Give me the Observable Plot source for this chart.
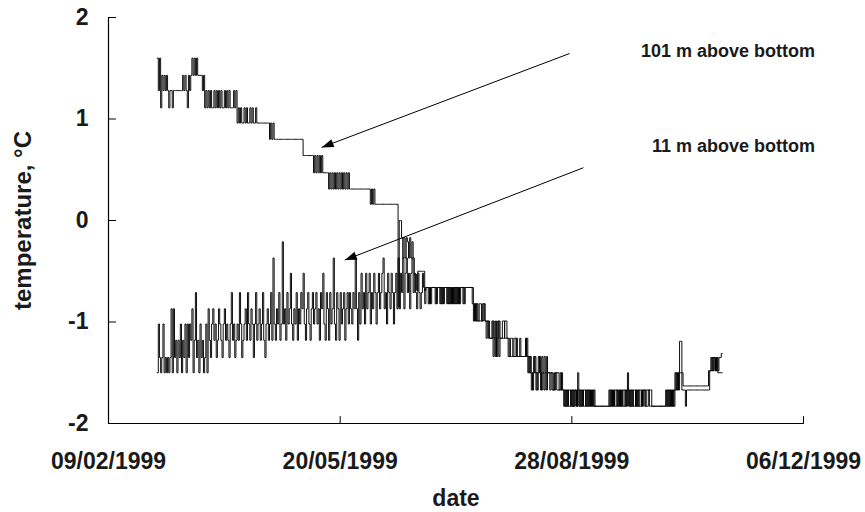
<!DOCTYPE html>
<html>
<head>
<meta charset="utf-8">
<script src="https://cdn.jsdelivr.net/npm/d3@7"></script>
<script src="https://cdn.jsdelivr.net/npm/@observablehq/plot@0.6"></script>
<style>
  html, body { margin: 0; padding: 0; background: #fff; }
  svg { display: block; }
</style>
</head>
<body>
<div id="chart"></div>
<script>
// ---- data: readings every 12 hours, first reading 1999-03-02 00:00 UTC ----
const startDate = "1999-03-02";
const stepHours = 12;
const seriesNames = ["101 m above bottom", "11 m above bottom"];
const temp101 = [
  1.60, 1.28, 1.60, 1.11, 1.43, 1.28, 1.43, 1.28, 1.43, 1.28,
  1.11, 1.28, 1.28, 1.11, 1.28, 1.28, 1.28, 1.28, 1.28, 1.28,
  1.28, 1.28, 1.43, 1.28, 1.43, 1.28, 1.11, 1.43, 1.28, 1.43,
  1.60, 1.43, 1.60, 1.43, 1.60, 1.43, 1.43, 1.43, 1.43, 1.28,
  1.43, 1.11, 1.28, 1.11, 1.28, 1.11, 1.28, 1.11, 1.11, 1.28,
  1.11, 1.28, 1.11, 1.28, 1.11, 1.28, 1.11, 1.11, 1.28, 1.11,
  1.28, 1.11, 1.28, 1.11, 1.11, 1.11, 1.28, 1.11, 1.28, 0.96,
  1.11, 0.96, 1.11, 0.96, 0.96, 1.11, 0.96, 1.11, 0.96, 0.96,
  1.11, 0.96, 1.11, 0.96, 0.96, 1.11, 0.96, 0.96, 0.96, 0.96,
  0.96, 0.96, 0.96, 0.96, 0.96, 0.96, 0.96, 0.80, 0.96, 0.80,
  0.96, 0.80, 0.80, 0.80, 0.80, 0.80, 0.80, 0.80, 0.80, 0.80,
  0.80, 0.80, 0.80, 0.80, 0.80, 0.80, 0.80, 0.80, 0.80, 0.80,
  0.80, 0.80, 0.80, 0.80, 0.80, 0.80, 0.64, 0.64, 0.64, 0.64,
  0.64, 0.64, 0.64, 0.64, 0.64, 0.47, 0.64, 0.47, 0.64, 0.47,
  0.64, 0.47, 0.64, 0.47, 0.47, 0.47, 0.47, 0.47, 0.31, 0.47,
  0.31, 0.47, 0.31, 0.47, 0.31, 0.47, 0.31, 0.47, 0.31, 0.47,
  0.31, 0.47, 0.31, 0.47, 0.31, 0.47, 0.31, 0.31, 0.31, 0.31,
  0.31, 0.31, 0.31, 0.31, 0.31, 0.31, 0.31, 0.31, 0.31, 0.31,
  0.31, 0.31, 0.31, 0.31, 0.16, 0.31, 0.16, 0.31, 0.16, 0.16,
  0.16, 0.16, 0.16, 0.16, 0.16, 0.16, 0.16, 0.16, 0.16, 0.16,
  0.16, 0.16, 0.16, 0.16, 0.16, 0.16, 0.16, 0.16, -0.85, 0.00,
  0.00, -0.17, -0.37, -0.17, -0.37, -0.17, -0.21, -0.37, -0.17, -0.37,
  -0.21, -0.37, -0.53, -0.53, -0.69, -0.50, -0.50, -0.50, -0.50, -0.50,
  -0.50, -0.69, -0.66, -0.66, -0.82, -0.66, -0.82, -0.66, -0.66, -0.66,
  -0.82, -0.66, -0.66, -0.66, -0.82, -0.66, -0.82, -0.66, -0.66, -0.66,
  -0.66, -0.82, -0.66, -0.82, -0.66, -0.82, -0.66, -0.82, -0.66, -0.82,
  -0.66, -0.82, -0.66, -0.66, -0.82, -0.66, -0.66, -0.66, -0.66, -0.66,
  -0.66, -0.66, -0.82, -0.99, -0.82, -0.99, -0.82, -0.99, -0.82, -0.82,
  -0.99, -0.82, -0.82, -0.99, -0.99, -0.99, -1.16, -1.16, -1.16, -0.99,
  -1.34, -1.16, -0.99, -1.34, -1.16, -0.99, -1.16, -1.16, -0.99, -0.99,
  -1.16, -1.16, -1.16, -1.34, -1.34, -1.16, -1.16, -1.34, -1.34, -1.34,
  -1.16, -1.34, -1.34, -1.34, -1.34, -1.34, -1.34, -1.34, -1.16, -1.34,
  -1.50, -1.34, -1.50, -1.67, -1.50, -1.34, -1.50, -1.67, -1.50, -1.34,
  -1.50, -1.67, -1.34, -1.50, -1.67, -1.50, -1.34, -1.50, -1.50, -1.67,
  -1.50, -1.50, -1.67, -1.67, -1.50, -1.50, -1.50, -1.67, -1.67, -1.50,
  -1.67, -1.83, -1.67, -1.83, -1.67, -1.83, -1.83, -1.67, -1.83, -1.67,
  -1.83, -1.67, -1.83, -1.50, -1.83, -1.67, -1.83, -1.67, -1.83, -1.83,
  -1.67, -1.83, -1.67, -1.83, -1.67, -1.83, -1.67, -1.83, -1.83, -1.83,
  -1.83, -1.83, -1.83, -1.83, -1.83, -1.83, -1.83, -1.83, -1.83, -1.83,
  -1.67, -1.83, -1.67, -1.83, -1.67, -1.83, -1.83, -1.67, -1.83, -1.67,
  -1.83, -1.67, -1.83, -1.83, -1.67, -1.83, -1.50, -1.83, -1.67, -1.83,
  -1.67, -1.83, -1.83, -1.67, -1.83, -1.67, -1.83, -1.83, -1.67, -1.83,
  -1.67, -1.67, -1.83, -1.83, -1.67, -1.83, -1.83, -1.83, -1.83, -1.83,
  -1.83, -1.83, -1.83, -1.83, -1.83, -1.83, -1.83, -1.83, -1.83, -1.67,
  -1.83, -1.67, -1.83, -1.67, -1.83, -1.67, -1.83, -1.67, -1.50, -1.67,
  -1.50, -1.19, -1.19, -1.50, -1.63, -1.63, -1.63, -1.63, -1.63, -1.63,
  -1.63, -1.63, -1.63, -1.63, -1.63, -1.63, -1.63, -1.63, -1.63, -1.63,
  -1.63, -1.63, -1.63, -1.63, -1.63, -1.63, -1.48, -1.48, -1.35, -1.48,
  -1.35, -1.35, -1.48, -1.35, -1.48, -1.35, -1.35, -1.31, -1.31
];
const temp11 = [
  -1.50, -1.02, -1.35, -1.50, -1.35, -1.02, -1.50, -1.35, -1.50, -1.35,
  -1.50, -1.35, -0.87, -1.50, -0.87, -1.35, -1.18, -1.50, -1.18, -1.35,
  -1.02, -1.50, -1.18, -1.35, -1.02, -1.50, -1.02, -1.35, -1.02, -1.18,
  -0.87, -1.50, -1.18, -0.71, -1.35, -1.18, -1.50, -1.02, -1.35, -1.18,
  -1.50, -1.35, -1.02, -1.50, -0.87, -1.18, -1.35, -1.02, -0.87, -1.18,
  -1.02, -1.35, -1.18, -0.87, -1.02, -1.18, -1.35, -1.02, -0.87, -1.18,
  -1.02, -1.18, -1.35, -1.02, -0.71, -1.18, -1.02, -1.35, -1.18, -1.02,
  -1.18, -0.71, -1.02, -1.35, -1.18, -1.02, -0.87, -1.18, -0.71, -1.02,
  -1.18, -0.87, -1.02, -1.35, -1.02, -0.71, -1.18, -1.02, -0.87, -1.18,
  -1.02, -0.71, -1.18, -1.35, -1.02, -0.87, -1.18, -1.02, -0.71, -1.18,
  -0.37, -1.02, -1.18, -0.87, -1.02, -0.71, -1.18, -1.02, -0.21, -1.02,
  -0.87, -1.18, -0.71, -1.02, -0.87, -0.52, -1.02, -1.18, -0.87, -1.02,
  -0.71, -1.18, -0.87, -1.02, -0.71, -0.87, -0.52, -1.02, -1.18, -0.87,
  -0.71, -1.02, -1.18, -0.87, -0.71, -1.02, -0.87, -0.71, -1.02, -0.87,
  -1.18, -0.71, -0.87, -0.52, -1.02, -1.18, -0.71, -0.87, -1.18, -0.71,
  -1.02, -0.87, -0.37, -1.02, -1.18, -0.71, -0.87, -1.18, -0.71, -1.02,
  -0.87, -0.71, -1.18, -0.87, -0.71, -1.02, -0.71, -0.87, -1.02, -0.71,
  -0.87, -0.37, -0.87, -1.18, -0.71, -1.02, -0.52, -0.87, -0.71, -1.02,
  -0.52, -0.87, -0.71, -0.52, -1.02, -0.71, -0.87, -0.52, -0.71, -1.02,
  -0.71, -0.52, -0.87, -0.71, -0.52, -0.37, -0.87, -0.71, -1.02, -0.52,
  -0.71, -0.87, -0.52, -0.71, -1.02, -0.71, -0.52, -0.87, -0.37, -0.87,
  -0.52, -0.71, -0.37, -0.87, -0.52, -0.37, -0.71, -0.52, -0.87, -0.52,
  -0.37, -0.71, -0.52, -0.71, -0.87, -0.52, -0.71, -0.87, -0.71, -0.52,
  -0.66, -0.82, -0.66, -0.66, -0.66, -0.82, -0.66, -0.66, -0.66, -0.66,
  -0.66, -0.82, -0.66, -0.66, -0.66, -0.82, -0.66, -0.82, -0.66, -0.66,
  -0.82, -0.66, -0.82, -0.66, -0.82, -0.66, -0.82, -0.66, -0.82, -0.66,
  -0.82, -0.66, -0.66, -0.66, -0.66, -0.82, -0.66, -0.66, -0.66, -0.66,
  -0.66, -0.66, -0.66, -0.82, -0.99, -0.82, -0.99, -0.99, -0.99, -0.99,
  -0.99, -0.99, -0.82, -0.99, -1.16, -0.99, -0.99, -1.16, -1.16, -1.16,
  -0.99, -1.16, -1.34, -1.16, -0.99, -1.34, -1.16, -1.16, -1.16, -1.16,
  -0.99, -0.99, -1.16, -1.16, -1.34, -1.34, -1.34, -1.34, -1.16, -1.16,
  -1.34, -1.34, -1.34, -1.16, -1.34, -1.34, -1.34, -1.34, -1.34, -1.16,
  -1.34, -1.50, -1.34, -1.50, -1.67, -1.50, -1.34, -1.50, -1.67, -1.50,
  -1.34, -1.50, -1.67, -1.50, -1.34, -1.50, -1.67, -1.50, -1.50, -1.50,
  -1.50, -1.67, -1.67, -1.50, -1.50, -1.67, -1.67, -1.67, -1.50, -1.67,
  -1.67, -1.67, -1.83, -1.67, -1.83, -1.67, -1.67, -1.83, -1.67, -1.83,
  -1.67, -1.67, -1.83, -1.67, -1.67, -1.83, -1.67, -1.83, -1.67, -1.67,
  -1.83, -1.67, -1.83, -1.67, -1.83, -1.67, -1.83, -1.67, -1.83, -1.83,
  -1.83, -1.83, -1.83, -1.83, -1.83, -1.83, -1.83, -1.83, -1.83, -1.83,
  -1.83, -1.67, -1.83, -1.67, -1.83, -1.67, -1.67, -1.83, -1.67, -1.83,
  -1.67, -1.83, -1.67, -1.67, -1.83, -1.67, -1.67, -1.67, -1.83, -1.67,
  -1.83, -1.67, -1.67, -1.83, -1.67, -1.83, -1.67, -1.67, -1.83, -1.67,
  -1.67, -1.83, -1.67, -1.67, -1.67, -1.67, -1.67, -1.83, -1.83, -1.83,
  -1.83, -1.83, -1.83, -1.83, -1.83, -1.83, -1.83, -1.83, -1.83, -1.83,
  -1.67, -1.83, -1.67, -1.83, -1.67, -1.83, -1.67, -1.50, -1.67, -1.50,
  -1.67, -1.50, -1.50, -1.67, -1.67, -1.67, -1.83, -1.67, -1.67, -1.67,
  -1.67, -1.67, -1.67, -1.67, -1.67, -1.67, -1.67, -1.67, -1.67, -1.67,
  -1.67, -1.67, -1.67, -1.67, -1.67, -1.67, -1.67, -1.48, -1.48, -1.35,
  -1.48, -1.35, -1.48, -1.35, -1.50, -1.50, -1.50, -1.50, -1.50
];
const xTickDates = ["1999-02-09", "1999-05-20", "1999-08-28", "1999-12-06"];
const yTickValues = [-2, -1, 0, 1, 2];
const xLabel = "date";
const yLabel = "temperature, \u00B0C";
// annotation arrows: tails and heads as [date, temperature]
const arrowTails = [["1999-08-27", 1.645], ["1999-09-02", 0.52]];
const arrowHeads = [["1999-05-12", 0.72], ["1999-05-22", -0.39]];
const labelAnchors = [["1999-12-11", 1.61], ["1999-12-11", 0.67]];

// ---- build tables ----
const parse = d3.utcParse("%Y-%m-%d");
const t0 = parse(startDate);
const rows = [];
temp101.forEach((v, i) => rows.push({series: seriesNames[0], date: d3.utcHour.offset(t0, stepHours * i), temp: v}));
temp11.forEach((v, i) => rows.push({series: seriesNames[1], date: d3.utcHour.offset(t0, stepHours * i), temp: v}));
const xTicks = xTickDates.map(parse);
const arrows = arrowTails.map((t, i) => ({
  x1: parse(t[0]), y1: t[1], x2: parse(arrowHeads[i][0]), y2: arrowHeads[i][1]
}));
const labels = labelAnchors.map((a, i) => ({x: parse(a[0]), y: a[1], text: seriesNames[i]}));

function filledArrow(color) {
  const m = d3.create("svg:marker")
    .attr("viewBox", "-12 -5 12 10")
    .attr("markerWidth", 12)
    .attr("markerHeight", 10)
    .attr("orient", "auto")
    .attr("overflow", "visible");
  m.append("path").attr("d", "M-12,-4.2L0,0L-12,4.2Z").attr("fill", color).attr("stroke", "none");
  return m.node();
}
const tickShapeUp = {draw(ctx, l) { ctx.moveTo(0, 0); ctx.lineTo(0, -l); }};

const font = "'Liberation Sans', Arial, Helvetica, sans-serif";

const chart = Plot.plot({
  width: 865,
  height: 512,
  marginLeft: 108,
  marginRight: 62,
  marginTop: 17,
  marginBottom: 89,
  style: {fontFamily: font, background: "#fff", color: "#000"},
  x: {type: "utc", domain: [xTicks[0], xTicks[xTicks.length - 1]]},
  y: {domain: [-2, 2]},
  marks: [
    // axis lines
    Plot.ruleX([xTicks[0]], {stroke: "#000", strokeWidth: 1.2}),
    Plot.ruleY([-2], {stroke: "#000", strokeWidth: 1.2}),
    // inward tick marks
    Plot.vector(xTicks, {x: d => d, y: -2, length: 7, rotate: 0, anchor: "start", shape: tickShapeUp, stroke: "#000", strokeWidth: 1}),
    Plot.vector(yTickValues, {x: xTicks[0], y: d => d, length: 7, rotate: 90, anchor: "start", shape: tickShapeUp, stroke: "#000", strokeWidth: 1}),
    // tick labels
    Plot.axisX({ticks: xTicks, tickSize: 0, tickPadding: 29, tickFormat: d3.utcFormat("%d/%m/%Y"), fontSize: 23, fontWeight: "bold", label: null, fill: "#1a1a1a", style: {letterSpacing: "0.7px"}}),
    Plot.axisY({ticks: yTickValues, tickSize: 0, tickPadding: 20, tickFormat: d => d3.format("d")(d).replace("\u2212", "-"), fontSize: 23, fontWeight: "bold", label: null, fill: "#1a1a1a"}),
    // axis titles
    Plot.text([xLabel], {frameAnchor: "bottom", dy: 82, lineAnchor: "bottom", fontSize: 23, fontWeight: "bold", fill: "#1a1a1a", text: d => d}),
    Plot.text([yLabel], {frameAnchor: "left", dx: -85, rotate: -90, textAnchor: "middle", fontSize: 24, fontWeight: "bold", fill: "#1a1a1a", text: d => d}),
    // series
    Plot.line(rows, {x: "date", y: "temp", z: "series", curve: "step-after", stroke: "#000", strokeWidth: 0.95}),
    // annotations
    Plot.link(arrows, {x1: "x1", y1: "y1", x2: "x2", y2: "y2", stroke: "#000", strokeWidth: 1, markerEnd: filledArrow}),
    Plot.text(labels, {x: "x", y: "y", text: "text", textAnchor: "end", lineAnchor: "bottom", fontSize: 18, fontWeight: "bold", fill: "#1a1a1a", style: {letterSpacing: "0.4px"}})
  ]
});
document.getElementById("chart").appendChild(chart);
</script>
</body>
</html>
